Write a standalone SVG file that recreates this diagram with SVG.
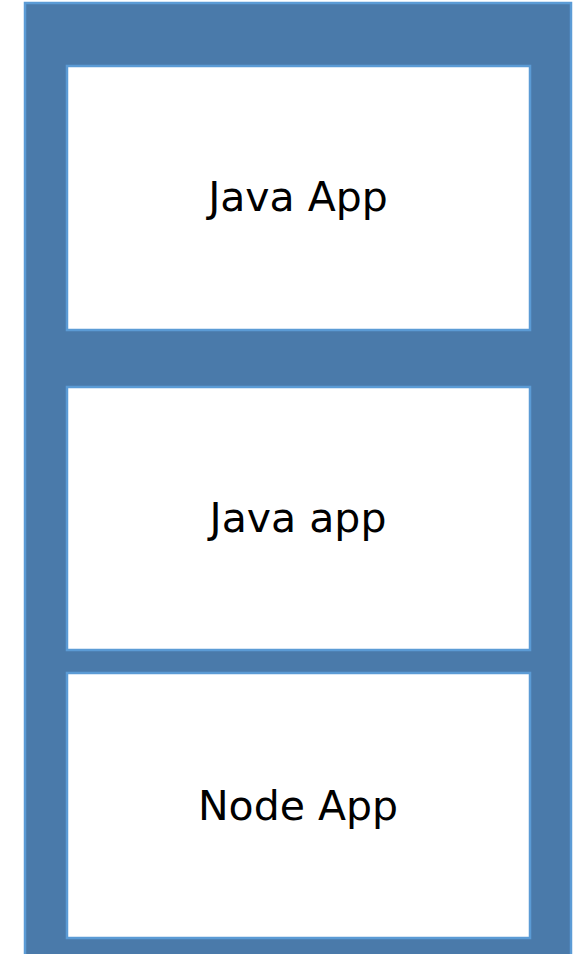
<svg xmlns="http://www.w3.org/2000/svg" width="580" height="954" viewBox="0 0 580 954">
<style>
.box{fill:#ffffff;stroke:#5b9bd5;stroke-width:2.5}
.lbl{font-family:"DejaVu Sans",sans-serif;font-size:41px;fill:#000;text-anchor:middle}
</style>
<rect width="580" height="954" fill="#ffffff"/>
<g id="container">
<rect x="25" y="3" width="546" height="960" fill="#4a7aaa" stroke="#5b9bd5" stroke-width="2.5"/>
</g>
<g id="java-app-1">
<rect class="box" x="67" y="66" width="463" height="264"/>
<text class="lbl" x="298" y="211">Java App</text>
</g>
<g id="java-app-2">
<rect class="box" x="67" y="387" width="463" height="263"/>
<text class="lbl" x="298" y="532">Java app</text>
</g>
<g id="node-app">
<rect class="box" x="67" y="673" width="463" height="265"/>
<text class="lbl" x="298" y="820">Node App</text>
</g>
<g id="connectors"></g>
</svg>
